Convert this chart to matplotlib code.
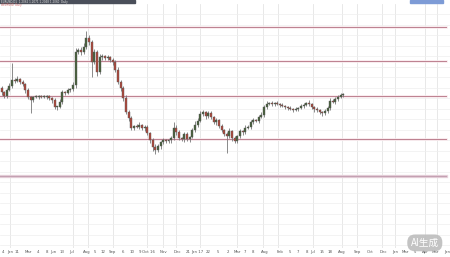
import numpy as np
import matplotlib
matplotlib.use("Agg")
import matplotlib.pyplot as plt
from matplotlib.patches import Rectangle

# daily closes (price)
closes = [1.208, 1.204, 1.210, 1.214, 1.220, 1.219, 1.221, 1.218, 1.216, 1.210,
          1.203, 1.200, 1.203, 1.203, 1.204, 1.203, 1.203, 1.204, 1.202, 1.200,
          1.193, 1.193, 1.198, 1.208, 1.207, 1.210, 1.211, 1.215, 1.248, 1.250,
          1.248, 1.253, 1.262, 1.258, 1.238, 1.248, 1.228, 1.243, 1.244, 1.242,
          1.243, 1.240, 1.238, 1.230, 1.218, 1.212, 1.202, 1.188, 1.182, 1.172,
          1.174, 1.173, 1.175, 1.172, 1.173, 1.167, 1.160, 1.153, 1.150, 1.154,
          1.158, 1.160, 1.159, 1.160, 1.162, 1.172, 1.168, 1.162, 1.161, 1.166,
          1.161, 1.163, 1.170, 1.175, 1.179, 1.186, 1.188, 1.184, 1.187, 1.183,
          1.178, 1.180, 1.174, 1.170, 1.166, 1.164, 1.169, 1.162, 1.159, 1.164,
          1.169, 1.168, 1.172, 1.173, 1.178, 1.180, 1.179, 1.183, 1.185, 1.193,
          1.196, 1.197, 1.196, 1.197, 1.196, 1.195, 1.194, 1.193, 1.192, 1.191,
          1.190, 1.191, 1.192, 1.194, 1.195, 1.197, 1.196, 1.193, 1.191, 1.190,
          1.188, 1.187, 1.189, 1.192, 1.199, 1.198, 1.201, 1.203, 1.205, 1.206]
first_open = 1.212

# wick lengths above / below the body, in 0.001
wick_hi = [2, 1, 2, 3, 17, 2, 3, 1, 2, 1, 2, 1, 1, 2, 1, 1, 2, 1, 1, 1,
           2, 1, 3, 2, 1, 2, 1, 3, 4, 2, 3, 4, 7, 3, 2, 3, 2, 3, 2, 1,
           2, 1, 2, 2, 3, 2, 2, 3, 2, 2, 1, 2, 3, 1, 2, 2, 1, 2, 3, 2,
           1, 2, 1, 1, 2, 6, 3, 2, 1, 2, 2, 1, 2, 4, 3, 3, 2, 1, 2, 2,
           1, 2, 1, 2, 1, 2, 3, 1, 2, 1, 2, 1, 3, 2, 2, 2, 1, 2, 3, 2,
           3, 1, 2, 1, 2, 1, 2, 1, 1, 2, 1, 2, 1, 2, 2, 1, 3, 1, 1, 2,
           1, 1, 2, 2, 3, 2, 2, 2, 2, 1]
wick_lo = [3, 2, 2, 1, 2, 2, 1, 2, 2, 3, 2, 13, 2, 1, 2, 1, 1, 2, 2, 3,
           2, 3, 1, 2, 2, 1, 2, 2, 3, 2, 3, 2, 2, 3, 15, 2, 4, 2, 3, 2,
           2, 2, 3, 2, 2, 3, 3, 2, 3, 2, 2, 1, 2, 2, 3, 2, 3, 4, 4, 2,
           3, 2, 2, 2, 3, 2, 3, 2, 2, 3, 2, 3, 1, 2, 2, 1, 2, 3, 2, 2,
           2, 3, 2, 2, 2, 17, 2, 3, 2, 2, 2, 3, 2, 1, 2, 2, 1, 2, 1, 2,
           2, 1, 2, 2, 1, 2, 1, 2, 2, 1, 2, 1, 2, 1, 2, 1, 2, 2, 3, 2,
           2, 3, 2, 2, 2, 1, 2, 2, 1, 2]

levels = [1.273, 1.239, 1.204, 1.161, 1.124]

tick_pos = [0.6, 3.2, 5.8, 10, 13.8, 17.2, 19.4, 22.8, 26.6, 32.3, 35.3, 38.3,
            42, 45.8, 49.2, 52.3, 55.3, 61, 66.2, 70.4, 73.8, 77.9, 81.7,
            85.5, 88.9, 91.9, 94.9, 99.4, 105.1, 108.9, 111.9, 115.3, 117.5,
            121, 124, 128.5, 134.2, 139.1, 143.9, 148.5, 152.3, 156, 159.8,
            163.6, 168.1]
tick_lab = ["4", "Jan", "11", "Mar", "4", "8", "Jun", "13", "Jul", "Aug", "5",
            "12", "Sep", "6", "10", "9", "Oct 16", "Nov", "Dec", "21",
            "Jan 17", "22", "5", "2", "Mar", "7", "8", "Aug", "Feb", "5", "7",
            "8", "Jul", "15", "18", "Aug", "Sep", "Oct", "Dec", "Jan", "Mar",
            "5", "Apr", "Mar", "Jan"]
vgrid = [3.2, 27, 32.6, 42, 55, 61, 66, 75, 89, 98.7, 104.3, 117.5, 128.5,
         134, 143.6, 148.5, 159.8, 164.3]

closes = np.array(closes)
opens = np.concatenate([[first_open], closes[:-1]])
highs = np.maximum(opens, closes) + np.array(wick_hi) * 0.001
lows = np.minimum(opens, closes) - np.array(wick_lo) * 0.001
idx = np.arange(len(closes))

fig = plt.figure(figsize=(4.5, 2.57), dpi=100)
fig.patch.set_facecolor("white")
ax = fig.add_axes([0, 9 / 257, 1, 244 / 257])
ax.set_facecolor("white")
for s in ax.spines.values():
    s.set_visible(False)

ax.set_xlim(-0.57, 169.2)
ax.set_ylim(1.052, 1.296)

# grid
for g in vgrid:
    ax.axvline(g, color="#e4e4e4", lw=0.6, zorder=0)
for h in np.arange(1.055, 1.296, 0.0105):
    ax.axhline(h, color="#efefef", lw=0.5, zorder=0)

# support / resistance
for k, lv in enumerate(levels):
    if k == len(levels) - 1:
        ax.axhline(lv, xmax=0.99, color="#ead7e0", lw=2.4, zorder=1)
        ax.axhline(lv, xmax=0.99, color="#c4a0b2", lw=1.0, zorder=2)
    else:
        ax.axhline(lv, xmax=0.99, color="#f8e6ea", lw=1.8, zorder=1)
        ax.axhline(lv, xmax=0.99, color="#bd8090", lw=0.7, zorder=2)

# candles
up = closes >= opens
cols = np.where(up, "#46603a", "#b0473a")
ax.vlines(idx, lows, highs, colors="#777777", lw=0.6, zorder=3)
body = np.maximum(np.abs(closes - opens), 0.0008)
ax.bar(idx, body, bottom=np.minimum(opens, closes), width=0.75,
       color=cols, edgecolor="#5a5a5a", linewidth=0.3, zorder=4)

ax.set_yticks([])
ax.set_xticks(tick_pos)
ax.set_xticklabels(tick_lab, fontsize=2.8, color="#555555")
ax.tick_params(axis="x", length=0, pad=1.2)

# header strip
fig.patches.append(Rectangle((0, 1 - 3 / 257), 135 / 450, 3 / 257,
                             transform=fig.transFigure, color="#4a4f5a"))
fig.patches.append(Rectangle((410 / 450, 1 - 3 / 257), 33 / 450, 3 / 257,
                             transform=fig.transFigure, color="#7d9bd6"))
fig.text(0.003, 1 - 1.5 / 257, "EURUSD,D1  1.2062 1.2071 1.2048 1.2060  Daily",
         fontsize=2.0, color="#dddddd", va="center")
fig.text(0.003, 1 - 5 / 257, "#EURUSD  Daily",
         fontsize=1.8, color="#d06060", va="center")

fig.text(0.944, 0.055, "AI生成", fontsize=7, color="white", ha="center",
         va="center", family=["Noto Sans CJK SC", "DejaVu Sans"],
         bbox=dict(boxstyle="round,pad=0.35,rounding_size=0.8",
                   fc="#bdbdbd", ec="none", alpha=0.9))

fig.savefig("out.png", dpi=100)
